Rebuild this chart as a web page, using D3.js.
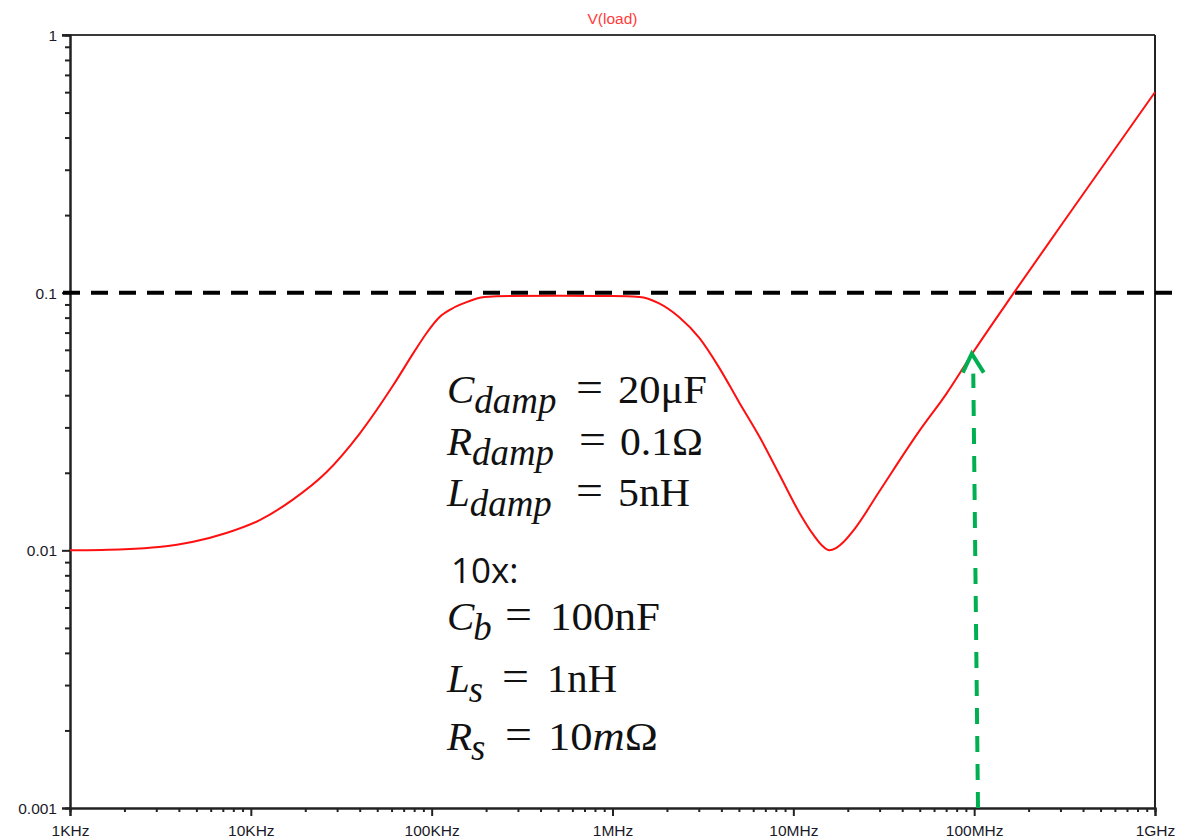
<!DOCTYPE html>
<html>
<head>
<meta charset="utf-8">
<script src="https://cdn.jsdelivr.net/npm/d3@7"></script>
<style>
  html, body { margin: 0; padding: 0; background: #fff; }
  svg { display: block; }
  .tick-label { font-family: "Liberation Sans", Arial, sans-serif; font-size: 15.5px; fill: #1a1a2a; }
  .eq { font-family: "Liberation Serif", "Times New Roman", serif; fill: #111; }
</style>
</head>
<body>
<svg id="chart" width="1181" height="839"></svg>
<script>
// Load voltage |V(load)| versus frequency
const freqs = [1e3, 2e3, 3.1e3, 4.8e3, 7.4e3, 1.12e4, 1.7e4, 2.6e4, 4e4, 6.1e4, 8e4,
               9.4e4, 1.11e5, 1.29e5, 1.51e5, 1.96e5, 2.7e5, 5e5, 1e6, 1.41e6, 1.8e6, 2.34e6, 3.02e6,
               3.88e6, 5.02e6, 6.5e6, 8.4e6, 1.08e7, 1.29e7, 1.45e7, 1.58e7, 1.72e7, 1.9e7, 2.2e7,
               3e7, 5e7, 7e7, 1e8, 1.66e8, 3e8, 1e9];
const vload = [0.0100, 0.0101, 0.0103, 0.0108, 0.0117, 0.0131, 0.0157, 0.0200, 0.0284, 0.0435, 0.0589,
               0.0699, 0.0806, 0.0866, 0.0911, 0.0963, 0.0971, 0.0972, 0.0970, 0.0962, 0.0910, 0.0802, 0.0667,
               0.0513, 0.0375, 0.0276, 0.0196, 0.0140, 0.0115, 0.0104, 0.0100, 0.0102, 0.0108, 0.0122,
               0.0170, 0.0292, 0.0404, 0.0595, 0.100, 0.181, 0.600];

// Axis ticks
const xMajorTicks = [1e3, 1e4, 1e5, 1e6, 1e7, 1e8, 1e9];
const xTickLabels = ["1KHz", "10KHz", "100KHz", "1MHz", "10MHz", "100MHz", "1GHz"];
const yMajorTicks = [1, 0.1, 0.01, 0.001];
const yTickLabels = ["1", "0.1", "0.01", "0.001"];

// Reference level and marker
const limitLevel = 0.1;
const markerFreqTop = 9.7e7, markerFreqBottom = 1.05e8, markerValue = 0.058;

// Component values annotation
const componentLines = [
  { sym: "C", sub: "damp", val: "20μF" },
  { sym: "R", sub: "damp", val: "0.1Ω" },
  { sym: "L", sub: "damp", val: "5nH" },
  { sym: "C", sub: "b", val: "100nF" },
  { sym: "L", sub: "s", val: "1nH" },
  { sym: "R", sub: "s", val: "10", valItalic: "m", valTail: "Ω" }
];

const margin = { left: 70, right: 26, top: 35, bottom: 31 };
const W = 1181, H = 839;
const svg = d3.select("#chart");

const x = d3.scaleLog().domain([1e3, 1e9]).range([margin.left, W - margin.right]);
const y = d3.scaleLog().domain([0.001, 1]).range([H - margin.bottom, margin.top]);

// minor ticks 2..9 for each decade
function minorTicks(lo, hi) {
  const out = [];
  for (let d = lo; d < hi; d *= 10) for (let k = 2; k <= 9; k++) out.push(d * k);
  return out;
}

const axisColor = "#222";

// frame: top and right borders
svg.append("line").attr("x1", x(1e3) - 8).attr("x2", x(1e9)).attr("y1", y(1)).attr("y2", y(1))
  .attr("stroke", "#3a3a3a").attr("stroke-width", 2);
svg.append("line").attr("x1", x(1e9)).attr("x2", x(1e9)).attr("y1", y(1)).attr("y2", y(0.001))
  .attr("stroke", "#222").attr("stroke-width", 2);

// y axis
const yMinor = svg.append("g").attr("transform", `translate(${x(1e3)},0)`)
  .call(d3.axisLeft(y).tickValues(minorTicks(0.001, 1)).tickSize(5).tickFormat(""));
const yMajor = svg.append("g").attr("transform", `translate(${x(1e3)},0)`)
  .call(d3.axisLeft(y).tickValues(yMajorTicks).tickSize(8).tickPadding(5)
    .tickFormat((d, i) => yTickLabels[i]));

// x axis
const xMinor = svg.append("g").attr("transform", `translate(0,${y(0.001)})`)
  .call(d3.axisBottom(x).tickValues(minorTicks(1e3, 1e9)).tickSize(4).tickFormat(""));
const xMajor = svg.append("g").attr("transform", `translate(0,${y(0.001)})`)
  .call(d3.axisBottom(x).tickValues(xMajorTicks).tickSize(8).tickPadding(5)
    .tickFormat((d, i) => xTickLabels[i]));

[yMinor, yMajor, xMinor, xMajor].forEach(g => {
  g.select(".domain").attr("stroke", axisColor).attr("stroke-width", 2);
  g.selectAll(".tick line").attr("stroke", axisColor).attr("stroke-width", 2);
  g.selectAll("text").attr("class", "tick-label").attr("font-family", null).attr("font-size", null).attr("fill", null);
});
yMajor.selectAll("text").attr("dy", "0.36em");
xMajor.selectAll("text").attr("dy", null).attr("y", 28);

// title
svg.append("text").attr("x", (x(1e3) + x(1e9)) / 2).attr("y", 24)
  .attr("text-anchor", "middle")
  .attr("font-family", "Liberation Sans, Arial, sans-serif").attr("font-size", 15.5)
  .attr("fill", "#ff3b3b").text("V(load)");

// dashed reference level
svg.append("line")
  .attr("x1", x(1e3) - 7).attr("x2", x(1e9) + 17)
  .attr("y1", y(limitLevel)).attr("y2", y(limitLevel))
  .attr("stroke", "#000").attr("stroke-width", 4).attr("stroke-dasharray", "17 11");

// response curve
const pts = freqs.map((f, i) => [f, vload[i]]);
const line = d3.line().x(d => x(d[0])).y(d => y(d[1])).curve(d3.curveMonotoneX);
svg.append("path").datum(pts).attr("d", line)
  .attr("fill", "none").attr("stroke", "#ff1010").attr("stroke-width", 2);

// green marker arrow
const green = "#00b050";
const ax0 = x(markerFreqBottom), ay0 = y(0.001);
const ax1 = x(markerFreqTop), ay1 = y(markerValue);
svg.append("line").attr("x1", ax0).attr("y1", ay0).attr("x2", ax1 + 1.5).attr("y2", ay1 + 20)
  .attr("stroke", green).attr("stroke-width", 4).attr("stroke-dasharray", "16 12");
svg.append("polyline")
  .attr("points", `${ax1 - 9},${ay1 + 19} ${ax1},${ay1} ${ax1 + 12},${ay1 + 19}`)
  .attr("fill", "none").attr("stroke", green).attr("stroke-width", 4)
  .attr("stroke-linejoin", "miter");

// component annotation
const eqX = 447;
const baselines = [403, 455, 506, 630, 692, 750];
const eqPos = [ // [equals x, value x, value width]
  [576, 618, 89], [579, 620, 83], [576, 618, 72],
  [505, 550, 110], [502, 547, 70], [505, 548, 110]
];
const fs = 41;
componentLines.forEach((c, i) => {
  const g = svg.append("g").attr("class", "eq");
  const t = g.append("text").attr("x", eqX).attr("y", baselines[i]).attr("font-size", fs);
  t.append("tspan").attr("font-style", "italic").text(c.sym);
  t.append("tspan").attr("font-style", "italic").attr("font-size", fs * 0.9).attr("dy", 10)
    .attr("dx", c.sub.length > 1 ? 0 : -1).text(c.sub);
  g.append("text").attr("x", eqPos[i][0]).attr("y", baselines[i] - 2).attr("font-size", fs * 1.05)
    .attr("textLength", 27).attr("lengthAdjust", "spacingAndGlyphs").text("=");
  const v = g.append("text").attr("x", eqPos[i][1]).attr("y", baselines[i]).attr("font-size", fs)
    .attr("textLength", eqPos[i][2]).attr("lengthAdjust", "spacingAndGlyphs");
  v.append("tspan").text(c.val);
  if (c.valItalic) {
    v.append("tspan").attr("font-style", "italic").text(c.valItalic);
    v.append("tspan").text(c.valTail);
  }
});
svg.append("text").attr("x", 451).attr("y", 583)
  .attr("font-family", "Open Sans, Lato, sans-serif").attr("font-size", 35)
  .attr("fill", "#111").text("10x:");
</script>
</body>
</html>
